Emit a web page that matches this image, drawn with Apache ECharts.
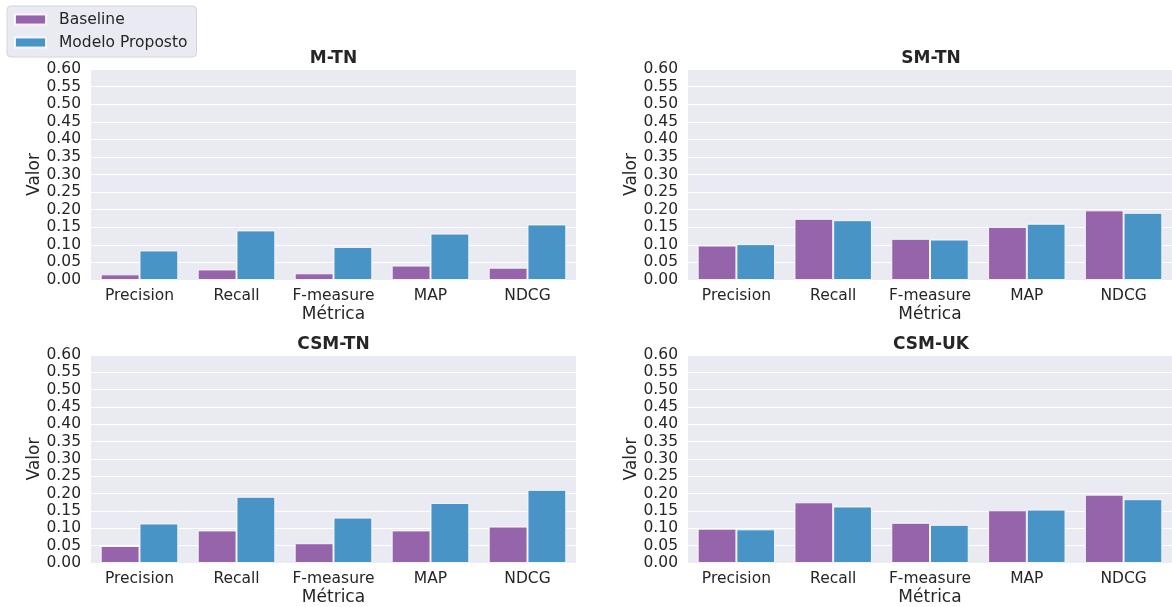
<!DOCTYPE html>
<html>
<head>
<meta charset="utf-8">
<script src="https://cdn.jsdelivr.net/npm/echarts@6/dist/echarts.min.js"></script>
<style>
  html, body { margin: 0; padding: 0; background: #ffffff; }
  #chart { width: 1172px; height: 607px; }
</style>
</head>
<body>
<div id="chart"></div>
<script>
// Metric categories shared by every panel
const metrics = ['Precision', 'Recall', 'F-measure', 'MAP', 'NDCG'];
const yTicks = { min: 0, max: 0.6, step: 0.05 };
const seriesNames = ['Baseline', 'Modelo Proposto'];
const panelTitles = ['M-TN', 'SM-TN', 'CSM-TN', 'CSM-UK'];

// Scores per panel (order follows metrics)
const mtnBaseline    = [0.016, 0.030, 0.019, 0.041, 0.035];
const mtnProposto    = [0.084, 0.141, 0.094, 0.132, 0.158];
const smtnBaseline   = [0.098, 0.174, 0.117, 0.151, 0.198];
const smtnProposto   = [0.102, 0.170, 0.115, 0.160, 0.191];
const csmtnBaseline  = [0.049, 0.094, 0.057, 0.094, 0.105];
const csmtnProposto  = [0.114, 0.191, 0.131, 0.173, 0.211];
const csmukBaseline  = [0.099, 0.175, 0.116, 0.152, 0.197];
const csmukProposto  = [0.097, 0.163, 0.110, 0.154, 0.184];

const panelData = [
  [mtnBaseline, mtnProposto],
  [smtnBaseline, smtnProposto],
  [csmtnBaseline, csmtnProposto],
  [csmukBaseline, csmukProposto]
];

const FONT = 'DejaVu Sans';
const TEXT = '#262626';
const colors = ['#9664aa', '#4994c6'];

// Panel rectangles (2 x 2 layout)
const grids = [
  { left: 91,  top: 69,  width: 485, height: 211 },
  { left: 688, top: 69,  width: 486, height: 211 },
  { left: 91,  top: 355, width: 485, height: 211 },
  { left: 688, top: 355, width: 486, height: 211 }
];

const chart = echarts.init(document.getElementById('chart'), null, { renderer: 'canvas' });

const option = {
  backgroundColor: '#ffffff',
  animation: false,
  textStyle: { fontFamily: FONT },
  title: grids.map((g, i) => ({
    text: panelTitles[i],
    left: g.left + g.width / 2,
    top: g.top - 19,
    textAlign: 'center',
    padding: 0,
    textStyle: { fontFamily: FONT, fontSize: 17, fontWeight: 'bold', color: TEXT }
  })),
  legend: {
    orient: 'vertical',
    left: 7,
    top: 6,
    padding: [5, 9, 6, 7],
    itemGap: 6,
    itemWidth: 31,
    itemHeight: 10,
    icon: 'rect',
    backgroundColor: '#eaeaf2',
    borderColor: '#d4d4dc',
    borderWidth: 1,
    borderRadius: 4,
    data: seriesNames,
    textStyle: { fontFamily: FONT, fontSize: 15.5, color: TEXT, padding: [0, 0, 0, 8], lineHeight: 17 }
  },
  grid: grids.map(g => Object.assign({ backgroundColor: '#eaeaf2', show: true, borderWidth: 0 }, g)),
  xAxis: grids.map((g, i) => ({
    type: 'category',
    gridIndex: i,
    data: metrics,
    name: 'Métrica',
    nameLocation: 'middle',
    nameGap: 26,
    nameTextStyle: { fontFamily: FONT, fontSize: 17, color: TEXT },
    axisLine: { show: false },
    axisTick: { show: false },
    axisLabel: { interval: 0, margin: 8, fontFamily: FONT, fontSize: 15.5, color: TEXT },
    splitLine: { show: false }
  })),
  yAxis: grids.map((g, i) => ({
    type: 'value',
    gridIndex: i,
    min: yTicks.min,
    max: yTicks.max,
    interval: yTicks.step,
    name: 'Valor',
    nameLocation: 'middle',
    nameGap: 48,
    nameTextStyle: { fontFamily: FONT, fontSize: 17, color: TEXT },
    axisLine: { show: false },
    axisTick: { show: false },
    axisLabel: {
      margin: 10, fontFamily: FONT, fontSize: 15.5, color: TEXT,
      formatter: v => v.toFixed(2)
    },
    splitLine: { show: true, lineStyle: { color: '#ffffff', width: 1 } }
  })),
  series: []
};

panelData.forEach((pair, i) => {
  pair.forEach((vals, k) => {
    option.series.push({
      type: 'bar',
      name: seriesNames[k],
      xAxisIndex: i,
      yAxisIndex: i,
      data: vals,
      barGap: '0%',
      barCategoryGap: '20%',
      itemStyle: { color: colors[k], borderColor: 'rgba(255,255,255,0.85)', borderWidth: 1 }
    });
  });
});

chart.setOption(option);
</script>
</body>
</html>
